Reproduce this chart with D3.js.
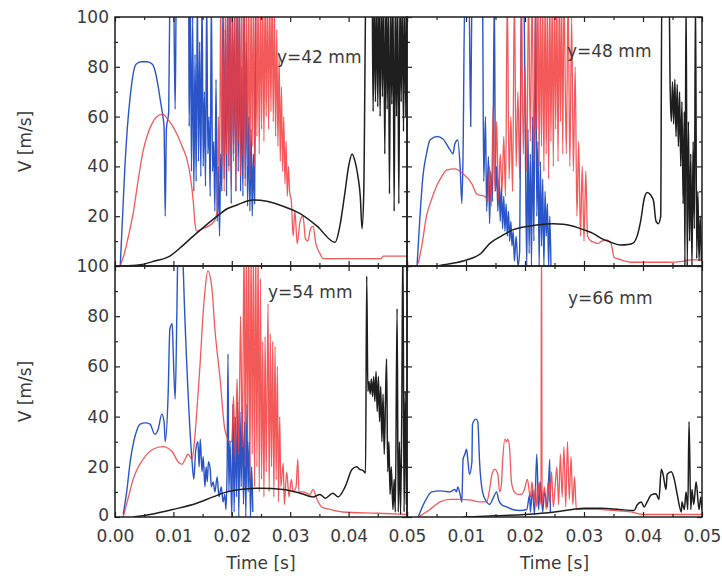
<!DOCTYPE html>
<html>
<head>
<meta charset="utf-8">
<script src="https://cdn.jsdelivr.net/npm/d3@7"></script>
<style>
body { margin: 0; background: #fff; }
</style>
</head>
<body>
<div id="wrapper"></div>
<script>
// [time in ms, velocity in m/s]
const blue42 = [[0.9,0],[1.3,20],[1.7,40],[2.1,55],[2.6,68],[3.1,77],[3.6,81],[4.5,82],[5.5,82],[6.4,81],[6.9,78],[7.4,72],[7.8,66],[8.2,60],[8.4,56],[8.6,20],[8.8,55],[9.2,62],[9.4,110],[10.0,115],[10.3,63],[10.5,110],[12.6,115],[12.7,56],
  [12.9,110],[13.1,38],[13.3,100],[13.5,30],[13.7,85],[13.9,34],[14.1,110],[14.3,42],[14.5,90],[14.7,36],[14.9,110],[15.1,40],[15.3,70],[15.5,32],[15.7,110],[15.9,45],[16.1,60],[16.3,28],[16.5,110],[16.7,38],[16.9,50],[17.1,22],[17.3,75],[17.5,18],[17.7,40],[17.9,12],[18.1,45],[18.3,30],[18.5,110],[18.7,35],[18.9,95],[19.1,28],[19.3,110],[19.5,40],[19.7,110],[19.9,25],[20.1,110],[20.3,45],[20.5,100],[20.7,30],[20.9,110],[21.1,38],[21.3,110],[21.5,30],[21.7,80],[21.9,28],[22.1,110],[22.3,35],[22.5,90],[22.7,24],[22.9,60],[23.1,22],[23.3,55],[23.5,20],[23.7,45],[23.9,25],[24.1,110],[24.3,120]];
const red42 = [[0.9,0],[1.6,5],[2.3,12],[3.1,21],[4.0,35],[4.8,46],[5.6,53],[6.4,57.5],[7.2,60],[8.2,61],[9.0,59],[9.8,56.5],[10.6,53],[11.5,48],[12.3,43],[12.9,36],[13.4,26],[13.7,17],[14.0,14],[15.0,15],[16.0,16],[17.0,18],[17.5,22],
  [17.7,60],[17.9,35],[18.1,110],[18.3,40],[18.5,95],[18.7,30],[18.9,110],[19.1,45],[19.3,110],[19.5,38],[19.7,110],[19.9,33],[20.1,100],[20.3,42],[20.5,110],[20.7,30],[20.9,110],[21.1,50],[21.3,110],[21.5,36],[21.7,110],[21.9,44],[22.1,110],[22.3,32],[22.5,110],[22.7,40],[22.9,110],[23.1,35],[23.3,110],[23.5,48],[23.7,110],[23.9,40],[24.1,110],[24.3,52],[24.5,110],[24.7,45],[24.9,110],[25.1,55],[25.3,110],[25.5,50],[25.7,110],[25.9,60],[26.1,110],[26.3,55],[26.5,110],[26.7,62],[26.9,110],[27.1,58],[27.3,105],[27.5,52],[27.7,95],[27.9,48],[28.1,85],[28.3,42],[28.5,72],[28.7,38],[28.9,60],[29.1,33],[29.3,50],[29.5,28],[29.7,40],[29.9,30],
  [30.2,26],[30.5,12],[30.8,22],[31.2,9],[31.7,18],[32.2,20],[32.6,11],[33.0,10],[33.5,15],[33.9,16],[34.4,9],[35.1,5],[35.6,3],[40.0,3],[45.5,3],[46.0,4],[50.0,4]];
const black42 = [[1.2,0],[4.3,0.5],[6.8,2],[9.4,4],[11.5,8],[13.4,12],[15.4,16],[17.5,20],[19.2,23],[20.9,24.5],[23.6,26.5],[26.0,26],[28.8,24],[31.7,21],[34.6,16],[37.7,9.5],[38.5,16],[39.4,30],[40.0,40],[40.6,45],[41.1,42],[41.6,36],[42.0,28],[42.3,15],[42.6,30],[43.0,118],[44.0,120],
  [44.2,62],[44.4,110],[44.6,66],[44.8,110],[45.0,64],[45.2,110],[45.4,60],[45.6,110],[45.8,68],[46.0,110],[46.2,45],[46.4,110],[46.6,63],[46.8,110],[47.0,29],[47.2,110],[47.4,65],[47.6,110],[47.8,22],[48.0,110],[48.2,60],[48.4,110],[48.6,25],[48.8,110],[49.0,66],[49.2,110],[49.4,54],[49.6,110],[49.8,60],[50.0,110]];

const blue48 = [[1.7,0],[2.2,20],[2.7,36],[3.3,45],[3.9,50.6],[5.1,52],[6.1,51],[7.3,46.6],[7.8,45],[8.1,49],[8.6,50.6],[9.0,40],[9.3,25],[9.5,45],[9.8,110],[10.5,110],[10.8,56],[11.0,110],[12.6,115],[12.8,110],
  [13.0,34],[13.3,60],[13.5,22],[13.8,44],[14.0,17],[14.2,38],[14.5,26],[14.8,110],[15.0,30],[15.2,40],[15.4,22],[15.6,35],[15.8,18],[16.0,32],[16.2,15],[16.4,28],[16.6,14],[16.8,25],[17.0,12],[17.2,22],[17.4,10],[17.6,18],[17.8,8],[18.0,14],[18.2,2],[18.5,12],[18.8,0],[19.1,6],[19.4,110],[19.8,115],[20.1,40],[20.3,0],[20.5,55],[20.7,5],[20.9,45],[21.1,0],[21.3,60],[21.5,10],[21.8,110],[22.0,20],[22.2,50],[22.4,0],[22.6,42],[22.8,8],[23.0,35],[23.2,0],[23.4,30],[23.6,12],[23.8,25],[24.0,0],[24.2,20],[24.4,0]];
const red48 = [[1.9,1],[2.5,8],[3.3,20],[4.2,27],[5.0,32],[5.9,36],[6.7,38.5],[8.1,39],[9.5,37],[11.0,33],[11.8,29],[12.3,28.5],[13.2,28],[13.7,26],
  [14.0,40],[14.3,24],[14.6,64],[14.9,30],[15.2,58],[15.5,26],[15.8,45],[16.1,30],[16.4,52],[16.7,28],[17.0,110],[17.3,35],[17.6,60],[17.9,30],[18.2,110],[18.5,40],[18.8,70],[19.1,35],[19.4,110],[19.7,45],[20.0,80],[20.3,38],[20.6,110],[20.9,50],[21.2,110],[21.5,42],[21.8,110],[22.0,55],[22.2,110],[22.4,40],[22.6,110],[22.8,48],[23.0,110],[23.2,38],[23.4,110],[23.6,45],[23.8,110],[24.0,35],[24.2,110],[24.4,50],[24.6,110],[24.8,40],[25.0,110],[25.2,55],[25.4,110],[25.6,42],[25.8,110],[26.0,58],[26.2,110],[26.4,45],[26.6,110],[27.0,45],[27.3,110],[27.6,40],[27.9,100],[28.2,38],[28.5,80],[28.8,20],[29.1,50],[29.4,12],[29.7,40],[30.0,10],[30.3,38],[30.6,12],
  [31.2,10],[31.8,9.5],[32.3,9],[33.0,10],[33.8,10.5],[34.6,9],[35.1,3.5],[36.3,2.5],[38.0,1.5],[44.0,1.5],[47.0,2],[48.0,2.5],[50.0,2.5]];
const black48 = [[5.0,0],[7.0,0.8],[10.1,2.4],[12.5,5],[14.0,9],[16.0,12],[17.9,14.5],[20.0,15.8],[22.0,16.5],[24.8,17],[26.5,16.8],[28.2,16],[30.0,14.5],[31.6,13],[33.0,11],[34.5,9.6],[36.2,8.4],[37.5,8.6],[38.3,9.2],[39.0,12],[39.6,18],[40.2,27],[40.7,29.5],[41.3,28.5],[41.8,26],[42.2,18],[42.6,17],[43.0,20],[43.2,115],[44.4,115],
  [44.6,72],[44.8,58],[45.0,74],[45.2,57],[45.4,75],[45.6,52],[45.8,73],[46.0,48],[46.2,70],[46.4,40],[46.6,66],[46.8,25],[47.0,62],[47.1,0],[47.3,110],[47.5,0],[47.7,58],[47.9,10],[48.1,45],[48.3,0],[48.5,50],[48.7,15],[48.9,110],[49.1,3],[49.3,30],[49.5,2],[49.7,20],[49.9,2]];

const blue54 = [[1.4,1],[2.0,10],[2.6,22],[3.2,30],[3.8,35],[4.3,37],[5.2,37.5],[6.0,37],[6.8,33],[7.4,35],[8.0,41],[8.4,38],[8.6,30],[9.1,49],[9.4,75],[9.8,77],[9.95,67],[10.3,47],[10.6,82],[10.8,110],[11.5,115],[11.7,98],[12.5,50],[13.2,22],[13.5,15],
  [13.8,26],[14.2,30],[14.4,20],[14.6,31],[14.9,18],[15.1,24],[15.4,12],[15.6,20],[15.8,14],[16.0,22],[16.3,19],[16.5,12],[16.8,14],[17.1,10],[17.5,16],[17.8,8],[18.2,12],[18.5,6],[18.8,9],[19.0,3],[19.2,20],[19.35,65],[19.5,10],[19.7,30],[20.0,0],
  [20.2,45],[20.4,2],[20.6,40],[20.8,8],[21.0,46],[21.2,0],[21.4,42],[21.6,12],[21.8,44],[22.0,5],[22.2,38],[22.4,0],[22.6,45],[22.8,10],[23.0,30],[23.2,0],[23.4,20],[23.6,2]];
const red54 = [[1.4,0],[2.2,7],[3.1,15],[4.0,20],[4.8,23],[6.5,27],[8.2,28],[9.0,27.5],[9.8,26],[10.8,22],[11.5,21],[12.0,23],[12.5,25],[13.2,23],[13.6,30],[14.1,45],[14.6,62],[15.0,78],[15.4,90],[15.9,98],[16.6,91],[17.1,75],[18.0,55],[18.8,35],[19.7,30],
  [20.0,30],[20.3,48],[20.6,22],[20.9,55],[21.2,25],[21.5,80],[21.8,28],[22.1,110],[22.3,20],[22.5,110],[22.7,30],[22.9,110],[23.1,15],[23.3,110],[23.5,25],[23.7,110],[23.9,12],[24.1,110],[24.3,20],[24.5,110],[24.7,10],[24.9,95],[25.1,15],[25.3,70],[25.5,8],[25.7,72],[25.9,18],[26.2,85],[26.4,10],[26.6,73],[26.8,20],[27.0,70],[27.2,8],[27.4,68],[27.6,15],[27.8,60],[28.0,6],[28.2,40],[28.4,12],[28.8,21.5],[29.0,5],[29.4,18],[29.8,8],[30.2,15],[30.5,10],
  [31.0,12],[31.3,23],[31.5,10],[32.2,10],[33.4,9],[33.9,11],[34.6,7],[35.4,4],[36.8,3],[39.0,2],[45.0,1.5],[50.0,1]];
const black54 = [[3.1,0],[6.0,1],[9.9,3],[14.0,5.5],[16.8,8],[19.2,10],[21.4,11],[24.8,11.5],[28.8,11],[31.7,9.5],[34.0,8],[35.1,9],[36.0,7.5],[37.3,9.5],[38.2,8],[39.4,12],[40.6,19],[41.4,20],[41.9,19],[42.5,18.5],[42.9,17.5],[43.1,96],
  [43.3,50],[43.5,54],[43.7,49],[43.9,55],[44.1,48],[44.3,56],[44.5,46],[44.7,58],[44.9,42],[45.1,56],[45.3,38],[45.5,52],[45.7,30],[45.9,49],[46.1,25],[46.3,45],[46.5,63],[46.7,18],[46.9,30],[47.1,9],[47.3,20],[47.6,3],[47.8,15],[48.0,2],[48.3,83],[48.5,2],[48.7,30],[48.9,1],[49.1,40],[49.3,110],[49.5,2],[49.7,50],[49.9,5]];

const blue66 = [[1.9,0],[3.0,6],[4.2,10],[5.6,10.4],[7.3,10],[8.1,11],[8.4,10],[8.6,12],[9.0,9],[9.3,6],[9.5,23],[9.8,25],[10.1,27],[10.3,23],[10.6,17],[11.0,22],[11.1,37],[11.7,39],[12.0,38],[12.3,22],[12.8,10],[13.5,6],[14.0,5],[14.5,7],[15.2,10],[15.5,7],[16.0,5],[16.9,4],[17.9,3],[19.1,2.6],[20.3,3],[20.8,9],[20.9,2],[21.3,11],[21.6,1],[22.0,25],[22.3,3],[22.6,14],[23.0,2],[23.3,10],[23.8,4],[24.2,23],[24.3,2]];
const red66 = [[1.9,0],[3.9,3],[5.6,6],[7.3,7],[9.0,7],[10.6,6.8],[12.3,6],[13.5,6],[14.0,11],[14.4,17],[14.9,19],[15.4,17],[15.7,10],[16.0,13],[16.2,22],[16.6,31],[16.9,30],[17.1,31],[17.4,27],[17.7,14],[18.2,10],[18.8,9],[19.4,9],[19.9,11],[20.4,15],[20.9,8],[21.2,14],[21.5,6],[21.8,12],[22.0,4],[22.4,14],[22.7,5],[22.8,120],[22.9,5],[23.3,12],[23.6,3],[23.9,14],[24.2,6],[24.5,18],[24.8,4],[25.1,12],[25.4,20],[25.7,5],[26.0,25],[26.3,8],[26.6,28],[26.9,4],[27.2,30],[27.5,7],[27.8,24],[28.1,5],[28.4,16],[28.7,3],[29.3,3],[32.2,3],[35.0,2.6],[38.0,2],[40.0,1],[50.0,1]];
const black66 = [[9.5,0],[15.0,0.5],[20.0,1],[25.0,2],[28.0,3],[30.0,3.5],[33.0,3.5],[36.0,3],[38.5,2.6],[39.0,4.8],[39.7,6],[40.2,4],[40.7,6],[41.4,8.8],[42.2,9.3],[42.7,7],[43.1,19],[43.4,17],[43.9,11],[44.1,17],[44.8,18],[45.3,15],[45.8,9],[46.5,2],[46.6,6],[47.0,3],[47.3,10],[47.6,3],[47.8,38],[48.1,3],[48.3,11],[48.6,5],[49.0,14],[49.5,3],[49.8,8],[50.0,3]];

const xMajorTicks = [0, 0.01, 0.02, 0.03, 0.04, 0.05];
const xMinorTicks = [0.005, 0.015, 0.025, 0.035, 0.045];
const yMajorTicks = [0, 20, 40, 60, 80, 100];
const yMinorTicks = [10, 30, 50, 70, 90];
const xLabelsLeft = [0, 0.01, 0.02, 0.03, 0.04, 0.05];
const xLabelsRight = [0.01, 0.02, 0.03, 0.04, 0.05];
const yLabelsTop = [100, 80, 60, 40, 20];
const yLabelsBottom = [100, 80, 60, 40, 20, 0];
const panelNames = ["y=42 mm", "y=48 mm", "y=54 mm", "y=66 mm"];

const width = 722;
const height = 581;
const font = "DejaVu Sans";
const textColor = "#3a3a3a";
const colLeft = [115, 407];
const colRight = [407, 702];
const rowTop = [17, 266];
const rowBottom = [266, 517];

const panels = [
    {cols: colLeft, rows: rowTop, blue: blue42, red: red42, black: black42, name: panelNames[0], tx: 162, ty: 46, yLabels: yLabelsTop},
    {cols: colRight, rows: rowTop, blue: blue48, red: red48, black: black48, name: panelNames[1], tx: 160, ty: 40},
    {cols: colLeft, rows: rowBottom, blue: blue54, red: red54, black: black54, name: panelNames[2], tx: 153, ty: 32, yLabels: yLabelsBottom, xLabels: xLabelsLeft},
    {cols: colRight, rows: rowBottom, blue: blue66, red: red66, black: black66, name: panelNames[3], tx: 161, ty: 38, xLabels: xLabelsRight},
];

const svg = d3.select("#wrapper")
    .append("svg")
    .attr("width", width)
    .attr("height", height);

function tickStyle(g) {
    g.select(".domain").remove();
    g.selectAll("line").attr("stroke", "#222").attr("stroke-width", 1.2);
}

function textStyle(g) {
    g.select(".domain").remove();
    g.attr("font-family", font).attr("font-size", 17).style("color", textColor);
}

function drawPanel(p, i) {
    const xScale = d3.scaleLinear().domain([0, 0.05]).range(p.cols);
    const yScale = d3.scaleLinear().domain([0, 100]).range([p.rows[1], p.rows[0]]);
    const g = svg.append("g");

    g.append("clipPath").attr("id", "clip" + i)
        .append("rect")
        .attr("x", p.cols[0]).attr("y", p.rows[0])
        .attr("width", p.cols[1] - p.cols[0]).attr("height", p.rows[1] - p.rows[0]);

    const lineGenerator = d3.line()
        .x(d => xScale(d[0] / 1000))
        .y(d => yScale(d[1]))
        .curve(d3.curveMonotoneX);

    const lines = g.append("g").attr("clip-path", `url(#clip${i})`);
    lines.append("path").attr("d", lineGenerator(p.blue))
        .attr("fill", "none").attr("stroke", "#2a55c8").attr("stroke-width", 1.4)
        .attr("stroke-linejoin", "round");
    lines.append("path").attr("d", lineGenerator(p.red))
        .attr("fill", "none").attr("stroke", "#f23c3c").attr("stroke-width", 1.3)
        .attr("stroke-opacity", 0.85).attr("stroke-linejoin", "round");
    lines.append("path").attr("d", lineGenerator(p.black))
        .attr("fill", "none").attr("stroke", "#1e1e1e").attr("stroke-width", 1.5)
        .attr("stroke-linejoin", "round");

    // inward ticks on all four sides
    [[d3.axisBottom, p.rows[1]], [d3.axisTop, p.rows[0]]].forEach(([axis, pos]) => {
        g.append("g").attr("transform", `translate(0,${pos})`)
            .call(axis(xScale).tickValues(xMajorTicks).tickSize(-5).tickFormat("")).call(tickStyle);
        g.append("g").attr("transform", `translate(0,${pos})`)
            .call(axis(xScale).tickValues(xMinorTicks).tickSize(-3).tickFormat("")).call(tickStyle);
    });
    [[d3.axisLeft, p.cols[0]], [d3.axisRight, p.cols[1]]].forEach(([axis, pos]) => {
        g.append("g").attr("transform", `translate(${pos},0)`)
            .call(axis(yScale).tickValues(yMajorTicks).tickSize(-5).tickFormat("")).call(tickStyle);
        g.append("g").attr("transform", `translate(${pos},0)`)
            .call(axis(yScale).tickValues(yMinorTicks).tickSize(-3).tickFormat("")).call(tickStyle);
    });

    g.append("rect")
        .attr("x", p.cols[0]).attr("y", p.rows[0])
        .attr("width", p.cols[1] - p.cols[0]).attr("height", p.rows[1] - p.rows[0])
        .attr("fill", "none").attr("stroke", "#1e1e1e").attr("stroke-width", 1.5);

    if (p.yLabels) {
        g.append("g").attr("transform", `translate(${p.cols[0]},0)`)
            .call(d3.axisLeft(yScale).tickValues(p.yLabels).tickSize(0).tickPadding(6))
            .call(textStyle)
            .selectAll("text").attr("dy", d => d === 0 ? "0.2em" : "0.32em");
    }
    if (p.xLabels) {
        g.append("g").attr("transform", `translate(0,${p.rows[1]})`)
            .call(d3.axisBottom(xScale).tickValues(p.xLabels).tickSize(0).tickPadding(13).tickFormat(d3.format(".2f")))
            .call(textStyle);
    }

    g.append("text")
        .attr("x", p.cols[0] + p.tx).attr("y", p.rows[0] + p.ty)
        .attr("font-family", font).attr("font-size", 17).attr("fill", textColor)
        .text(p.name);
}

panels.forEach(drawPanel);

// axis titles
[rowTop, rowBottom].forEach(rows => {
    const cy = (rows[0] + rows[1]) / 2;
    svg.append("text")
        .attr("transform", `translate(31,${cy}) rotate(-90)`)
        .attr("text-anchor", "middle")
        .attr("font-family", font).attr("font-size", 17).attr("fill", textColor)
        .text("V [m/s]");
});
[colLeft, colRight].forEach(cols => {
    svg.append("text")
        .attr("x", (cols[0] + cols[1]) / 2).attr("y", 569)
        .attr("text-anchor", "middle")
        .attr("font-family", font).attr("font-size", 17).attr("fill", textColor)
        .text("Time [s]");
});
</script>
</body>
</html>
